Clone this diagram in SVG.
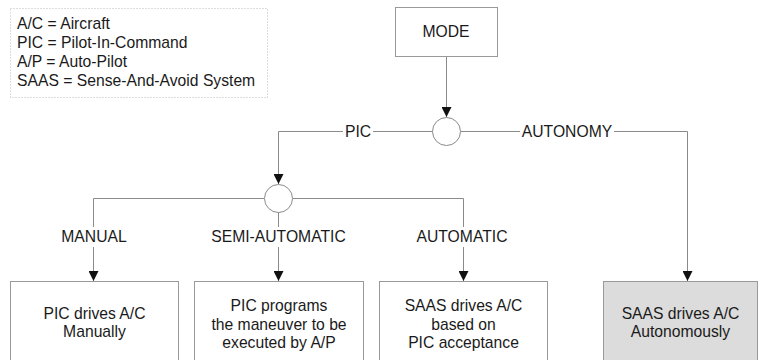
<svg xmlns="http://www.w3.org/2000/svg" width="760" height="360" viewBox="0 0 760 360">
<defs>
<style>
text{font-family:"Liberation Sans",Arial,sans-serif;font-size:15.7px;fill:#1a1a1a}
.c{text-anchor:middle}
.box{fill:#fff;stroke:#999;stroke-width:1}
.gray{fill:#dcdcdc}
.ln{fill:none;stroke:#8a8a8a;stroke-width:1}
.arr{fill:none;stroke:#8a8a8a;stroke-width:1;marker-end:url(#ah)}
.jn{fill:#fff;stroke:#8a8a8a;stroke-width:1}
</style>
<marker id="ah" viewBox="0 0 10 10" refX="10" refY="5" markerWidth="10" markerHeight="10" markerUnits="userSpaceOnUse" orient="auto">
<path d="M0,0 L10,5 L0,10 Z" fill="#111"/>
</marker>
</defs>
<rect width="760" height="360" fill="#fff"/>
<g id="legend">
<rect x="10.5" y="8.5" width="257" height="89" fill="none" stroke="#bbb" stroke-width="1" stroke-dasharray="1,2"/>
<text x="17" y="29">A/C = Aircraft</text>
<text x="17" y="48">PIC = Pilot-In-Command</text>
<text x="17" y="67">A/P = Auto-Pilot</text>
<text x="17" y="86">SAAS = Sense-And-Avoid System</text>
</g>
<g id="connectors">
<path class="arr" d="M446.5,56 V117"/>
<path class="ln" d="M278.5,131.5 H343 M373,131.5 H432.5 M460.5,131.5 H520 M614,131.5 H687.5 V246"/>
<path class="arr" d="M687.5,246 V281"/>
<path class="arr" d="M278.5,131.5 V184"/>
<path class="ln" d="M93.5,198.5 H264 M292.5,198.5 H463.5 V227 M93.5,198.5 V227 M278.5,212 V227"/>
<path class="arr" d="M93.5,247 V281"/>
<path class="arr" d="M278.5,247 V281"/>
<path class="arr" d="M463.5,247 V281"/>
</g>
<g id="junction1"><circle class="jn" cx="446.5" cy="131.5" r="14"/></g>
<g id="junction2"><circle class="jn" cx="278.5" cy="198.5" r="14"/></g>
<g id="labels">
<text class="c" x="358" y="136.5">PIC</text>
<text class="c" x="567" y="136.5">AUTONOMY</text>
<text class="c" x="94" y="242">MANUAL</text>
<text class="c" x="278.5" y="242">SEMI-AUTOMATIC</text>
<text class="c" x="462" y="242">AUTOMATIC</text>
</g>
<g id="mode">
<rect class="box" x="395.5" y="7.5" width="102" height="49"/>
<text class="c" x="446" y="37">MODE</text>
</g>
<g id="manual">
<rect class="box" x="10.5" y="281.5" width="168" height="90"/>
<text class="c" x="94.5" y="318.5">PIC drives A/C</text>
<text class="c" x="94.5" y="337">Manually</text>
</g>
<g id="semiauto">
<rect class="box" x="194.5" y="281.5" width="169" height="90"/>
<text class="c" x="279" y="311">PIC programs</text>
<text class="c" x="279" y="329.5">the maneuver to be</text>
<text class="c" x="279" y="348">executed by A/P</text>
</g>
<g id="automatic">
<rect class="box" x="379.5" y="281.5" width="168" height="90"/>
<text class="c" x="463.5" y="311">SAAS drives A/C</text>
<text class="c" x="463.5" y="329.5">based on</text>
<text class="c" x="463.5" y="348">PIC acceptance</text>
</g>
<g id="autonomy">
<rect class="box gray" x="603.5" y="281.5" width="154" height="90"/>
<text class="c" x="680.5" y="318.5">SAAS drives A/C</text>
<text class="c" x="680.5" y="337">Autonomously</text>
</g>
</svg>
